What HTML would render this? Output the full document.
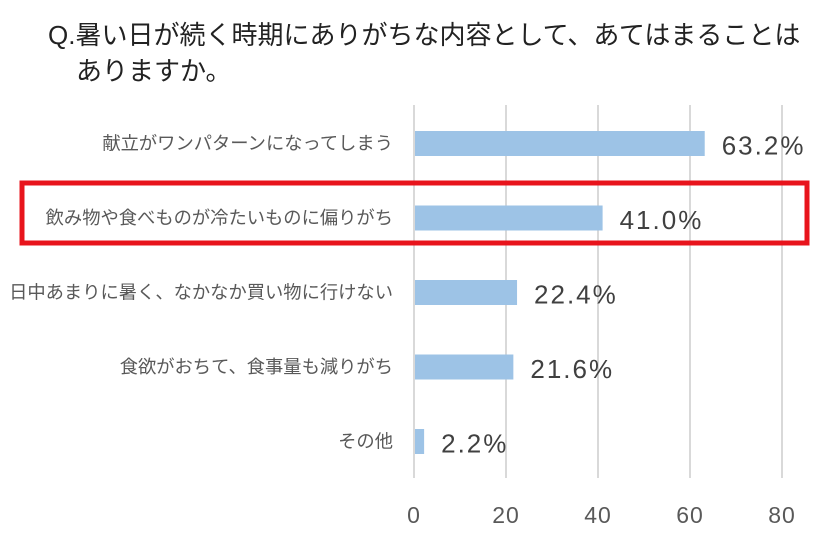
<!DOCTYPE html>
<html><head><meta charset="utf-8"><style>
body{margin:0;background:#fff;}
svg text{font-family:"Liberation Sans","Noto Sans CJK JP",sans-serif;}
</style></head><body>
<svg width="840" height="545" viewBox="0 0 840 545">
<text x="48" y="44" font-size="26" fill="#222">Q.暑い日が続く時期にありがちな内容として、あてはまることは</text>
<text x="76" y="80" font-size="26" fill="#222">ありますか。</text>
<g id="grid"></g>
<g id="bars"></g>
<g id="ticks"></g>
<rect x="22" y="183" width="785" height="60" fill="none" stroke="#e8141c" stroke-width="5"/>
</svg>
<script>
const categories=["献立がワンパターンになってしまう","飲み物や食べものが冷たいものに偏りがち","日中あまりに暑く、なかなか買い物に行けない","食欲がおちて、食事量も減りがち","その他"];
const values=[63.2,41.0,22.4,21.6,2.2];
const valueLabels=["63.2%","41.0%","22.4%","21.6%","2.2%"];
const tickValues=[0,20,40,60,80];
const NS="http://www.w3.org/2000/svg";
const x=v=>414+v*4.6;
const y=i=>143.5+i*74.5;
function mk(t,a,p){const e=document.createElementNS(NS,t);for(const k in a)e.setAttribute(k,a[k]);p.appendChild(e);return e;}
const g=document.getElementById('grid'),b=document.getElementById('bars'),tk=document.getElementById('ticks');
tickValues.forEach(v=>{
 const l=mk('line',{x1:x(v),x2:x(v),y1:105,y2:478,stroke:'#d9d9d9','stroke-width':2},g);
 
 
 const t=mk('text',{x:x(v),y:523,'font-size':23,fill:'#595959','text-anchor':'middle','letter-spacing':1},tk);
 t.textContent=v;
 
 
});
categories.forEach((c,i)=>{
 const r=mk('rect',{x:x(0)+1,y:y(i)-12.5,width:x(values[i])-x(0)-1,height:25,fill:'#9dc3e6'},b);
 
 
 const l=mk('text',{x:393,y:y(i)+6,'font-size':18.3,fill:'#595959','text-anchor':'end'},b);
 l.textContent=c;
 
 
 const v=mk('text',{x:x(values[i])+17,y:y(i)+11,'font-size':26,fill:'#404040','letter-spacing':2},b);
 v.textContent=valueLabels[i];
 
 
});
</script>
</body></html>
